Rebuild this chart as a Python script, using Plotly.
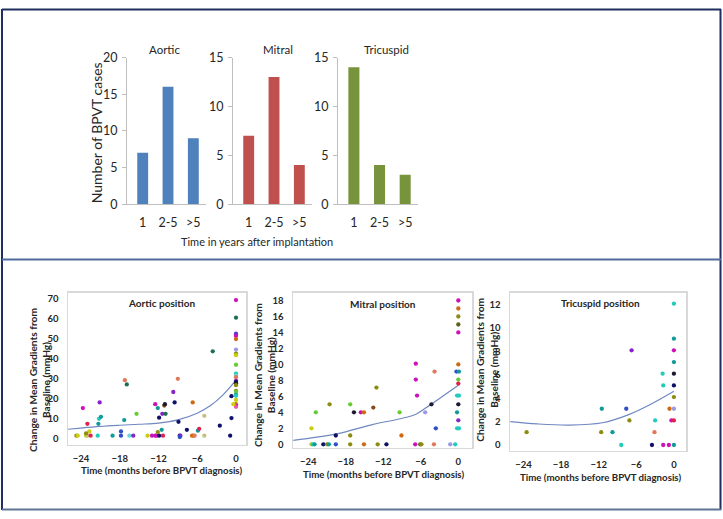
import plotly.graph_objects as go

W, H = 723, 519

# ---------------- data ----------------
bar_categories = ["1", "2-5", ">5"]
aortic_counts = [7, 16, 9]
mitral_counts = [7, 13, 4]
tricuspid_counts = [14, 4, 3]

aortic_x = [-24.7, -24.5, -23.2, -23.0, -22.5, -21.4, -19.1, -17.8, -16.5, -15.9, -13.7, -13.0,
            -12.5, -12.3, -11.9, -11.3, -8.7, -8.6, -6.8, -6.6, -6.4, -4.9, -0.9,
            -23.7, -23.0, -22.7, -23.2, -21.3, -21.2, -20.9, -21.1, -17.8, -17.3, -17.2, -16.9,
            -15.4, -12.5, -12.1, -11.9, -11.5, -12.1, -11.4, -11.1, -11.0, -10.9, -9.7, -9.5,
            -9.0, -8.9, -8.7, -7.6, -6.7, -5.9, -5.7, -4.9, -3.6, -2.5, -0.7, -0.7,
            0, 0, 0, 0, 0, 0, 0, 0, 0, 0, 0, 0, 0, 0, 0, 0, 0, 0, 0, 0, 0, 0, 0, 0, 0, -0.4]
aortic_y = [1.6, 1.6, 1.6, 1.6, 1.6, 1.6, 1.6, 1.6, 1.6, 1.6, 1.6, 1.6,
            1.6, 1.6, 1.6, 1.6, 1.6, 1.6, 1.6, 1.6, 1.6, 1.6, 1.6,
            15.4, 7.5, 3.7, 2.7, 7.5, 10.0, 11.0, 18.2, 3.7, 9.4, 29.3, 27.2,
            12.5, 17.3, 15.4, 10.6, 4.5, 3.4, 12.5, 16.6, 17.3, 12.5, 23.4, 18.2,
            30.0, 8.5, 0.9, 4.5, 18.2, 4.1, 5.0, 11.5, 43.7, 6.6, 21.3, 10.4,
            69.3, 60.5, 52.5, 52.0, 51.4, 49.8, 44.6, 42.6, 41.8, 37.0, 32.6, 31.6, 30.8, 29.0,
            28.4, 27.8, 26.8, 24.0, 23.5, 22.0, 21.5, 19.4, 17.3, 16.5, 16.0, 17.3]
aortic_trend_x = [-26, -24, -21, -18, -15, -12, -9, -6, -4, -2, 0]
aortic_trend_y = [4.8, 5.4, 6.2, 6.8, 7.3, 7.9, 9.5, 12.8, 16.5, 22.0, 29.3]

mitral_x = [-23.5, -23.3, -23.0, -21.6, -21.0, -20.7, -19.6, -17.3, -15.1, -12.9, -11.5, -6.9,
            -6.1, -5.9, -3.9, -1.3, -0.5,
            -23.5, -22.8, -20.6, -19.6, -17.3, -17.3, -16.7, -15.6, -15.1, -13.6, -13.1, -9.4,
            -9.1, -6.8, -6.8, -6.6, -4.3, -5.3, -3.8, -3.6,
            0, 0, 0, 0, 0, 0, -0.3, 0.1, 0, 0, -0.2, 0.1, 0, -0.2, 0, -0.2, 0.1]
mitral_y = [0, 0, 0, 0, 0, 0, 0, 0, 0, 0, 0, 0,
            0, 0, 0, 0, 0,
            2.0, 4.0, 5.0, 1.1, 5.0, 1.1, 4.0, 4.0, 4.0, 4.6, 7.1, 4.0,
            1.1, 10.1, 8.1, 6.1, 5.0, 4.0, 9.1, 2.0,
            18.0, 17.0, 16.0, 15.0, 14.0, 10.0, 9.1, 9.1, 8.1, 7.6, 6.1, 6.1, 5.0, 4.0, 3.0, 2.0, 2.0]
mitral_trend_x = [-26.4, -19.5, -13.6, -9.3, -6.7, -5.1, -2.9, 0]
mitral_trend_y = [0.5, 1.3, 2.5, 3.2, 3.8, 4.6, 5.8, 7.4]

tricuspid_x = [-23.5, -11.5, -11.6, -9.8, -8.4, -7.6, -6.75, -7.1, -3.5, -3.1, -3.0, -1.8,
               -1.7, -1.7, -0.8, -0.7, -0.4,
               0, 0, 0, 0, 0, 0, 0, 0, 0, 0]
tricuspid_y = [1.1, 3.1, 1.1, 1.1, 0, 3.1, 8.1, 2.1, 0, 1.1, 2.1, 6.1,
               5.1, 0, 0, 3.1, 2.1,
               12.1, 9.1, 8.1, 7.1, 6.1, 5.1, 4.1, 3.1, 2.1, 0]
tricuspid_trend_x = [-26.1, -21.8, -16.6, -11.4, -7.2, -4.0, 0]
tricuspid_trend_y = [2.0, 1.8, 1.7, 1.9, 2.6, 3.4, 4.6]

time_ticks = [-24, -18, -12, -6, 0]

# ---------------- styles ----------------
C = {"mag": "#cc11bb", "teal": "#119a99", "navy": "#10106a", "olive": "#8c8c10", "orange": "#d06a10",
     "purple": "#8a22cc", "green": "#66cc33", "cyan": "#22ccbb", "salmon": "#e0785a", "red": "#e0204f",
     "blue": "#2f4fc8", "black": "#1a1a30", "yellow": "#cccc10", "lav": "#9a9ae6", "khaki": "#c8c080",
     "dgreen": "#1f6f4f", "brown": "#8a4a20", "lcyan": "#66d8d8", "pink": "#ee55aa", "dolive": "#606020"}

aortic_colors = ["olive", "yellow", "yellow", "khaki", "red", "cyan", "teal", "blue", "lcyan", "purple",
                 "yellow", "mag", "mag", "mag", "navy", "red", "navy", "purple", "orange", "orange",
                 "salmon", "khaki", "navy",
                 "mag", "red", "yellow", "olive", "teal", "cyan", "teal", "purple", "blue", "teal",
                 "salmon", "dgreen", "green", "mag", "teal", "navy", "teal", "olive", "purple", "brown",
                 "black", "dgreen", "purple", "navy", "salmon", "navy", "blue", "navy", "orange", "teal",
                 "red", "khaki", "dgreen", "navy", "navy", "navy",
                 "mag", "dgreen", "purple", "blue", "mag", "orange", "lav", "olive", "yellow", "green",
                 "cyan", "lcyan", "salmon", "purple", "navy", "black", "olive", "olive", "green", "teal",
                 "cyan", "yellow", "orange", "mag", "pink", "yellow"]
mitral_colors = ["yellow", "cyan", "teal", "navy", "olive", "teal", "blue", "olive", "orange", "olive",
                 "navy", "mag", "dolive", "olive", "salmon", "lav", "cyan",
                 "yellow", "green", "olive", "navy", "green", "olive", "black", "mag", "orange", "brown",
                 "olive", "green", "orange", "mag", "mag", "mag", "black", "lav", "salmon", "blue",
                 "mag", "orange", "olive", "dolive", "mag", "orange", "blue", "teal", "green", "red",
                 "cyan", "cyan", "black", "teal", "purple", "cyan", "cyan"]
tricuspid_colors = ["olive", "teal", "olive", "teal", "cyan", "blue", "purple", "olive", "navy", "salmon",
                    "cyan", "cyan", "cyan", "mag", "mag", "orange", "mag",
                    "cyan", "teal", "mag", "teal", "black", "navy", "olive", "lav", "red", "teal"]

FONT = "Lato"
TXT = "#262626"


def fx(px):
    return px / W


def fy(py):
    return 1 - py / H


fig = go.Figure()

# top bar charts
bar_specs = [
    (aortic_counts, "#4f81bd", "x", "y"),
    (mitral_counts, "#c0504d", "x2", "y2"),
    (tricuspid_counts, "#77933c", "x3", "y3"),
]
for vals, col, xa, ya in bar_specs:
    fig.add_trace(go.Bar(x=bar_categories, y=vals, marker=dict(color=col, line=dict(width=0)),
                         width=0.43, xaxis=xa, yaxis=ya, showlegend=False, hoverinfo="skip"))

# bottom scatter charts
scatter_specs = [
    (aortic_x, aortic_y, aortic_trend_x, aortic_trend_y, "x4", "y4", aortic_colors),
    (mitral_x, mitral_y, mitral_trend_x, mitral_trend_y, "x5", "y5", mitral_colors),
    (tricuspid_x, tricuspid_y, tricuspid_trend_x, tricuspid_trend_y, "x6", "y6", tricuspid_colors),
]
for sx, sy, tx, ty, xa, ya, cols in scatter_specs:
    fig.add_trace(go.Scatter(x=tx, y=ty, mode="lines", line=dict(color="#7088c0", width=1.2, shape="spline"),
                             xaxis=xa, yaxis=ya, showlegend=False, hoverinfo="skip"))
    fig.add_trace(go.Scatter(x=sx, y=sy, mode="markers",
                             marker=dict(size=4.3, symbol="circle", color=[C[c] for c in cols],
                                         line=dict(width=0)),
                             xaxis=xa, yaxis=ya, showlegend=False, hoverinfo="skip"))

layout = dict(width=W, height=H, margin=dict(l=0, r=0, t=0, b=0),
              paper_bgcolor="white", plot_bgcolor="white", showlegend=False,
              font=dict(family=FONT, color=TXT))

# top axes
top_x = [(127, 206), (233, 312), (338, 418)]
top_ranges = [20, 15, 15]
for i, ((x0, x1), rmax) in enumerate(zip(top_x, top_ranges)):
    sfx = "" if i == 0 else str(i + 1)
    layout["xaxis" + sfx] = dict(domain=[fx(x0), fx(x1)], anchor="y" + sfx, showline=True,
                                 linecolor="#bfbfbf", linewidth=1, ticks="", showgrid=False,
                                 tickfont=dict(size=12.5, family=FONT, color=TXT),
                                 ticklabelstandoff=7, range=[-0.62, 2.5])
    layout["yaxis" + sfx] = dict(domain=[fy(202), fy(51)], anchor="x" + sfx, range=[0, rmax],
                                 dtick=5, showline=True, linecolor="#bfbfbf", linewidth=1,
                                 ticks="outside", ticklen=4, tickcolor="#bfbfbf", showgrid=False,
                                 tickfont=dict(size=12.5, family=FONT, color=TXT), zeroline=False,
                                 ticklabelstandoff=2)

# bottom axes
bot = [
    dict(x=(68, 246), y=(293, 450), xr=[-26.0, 1.55], yr=[-3.05, 73.05], dt=10),
    dict(x=(293, 472), y=(293, 453), xr=[-26.45, 2.19], yr=[-0.45, 19.0], dt=2),
    dict(x=(510, 686), y=(293, 456), xr=[-26.15, 1.93], yr=[-0.5, 13.05], dt=2),
]
for j, b in enumerate(bot):
    k = str(j + 4)
    layout["xaxis" + k] = dict(domain=[fx(b["x"][0]), fx(b["x"][1])], anchor="y" + k, range=b["xr"],
                               tickvals=time_ticks, showline=True, mirror=True, linecolor="#d9d9d9",
                               linewidth=1.5, ticks="", showgrid=False, zeroline=False,
                               tickfont=dict(size=9.5, family=FONT, color=TXT, weight="bold"),
                               ticklabelstandoff=4)
    layout["yaxis" + k] = dict(domain=[fy(b["y"][1]), fy(b["y"][0])], anchor="x" + k, range=b["yr"],
                               dtick=b["dt"], showline=True, mirror=True, linecolor="#d9d9d9",
                               linewidth=1.5, ticks="", showgrid=False, zeroline=False,
                               tickfont=dict(size=9.5, family=FONT, color=TXT, weight="bold"),
                               ticklabelstandoff=6)

annotations = []


def ann(text, x, y, size, bold=False, angle=0):
    annotations.append(dict(text=text, x=fx(x), y=fy(y), xref="paper", yref="paper", showarrow=False,
                            xanchor="center", yanchor="middle", textangle=angle,
                            font=dict(size=size, family=FONT, color=TXT, weight="bold" if bold else "normal")))


ann("Aortic", 164, 43, 11.5)
ann("Mitral", 278, 43, 11.5)
ann("Tricuspid", 386, 43, 11.5)
ann("Number of BPVT cases", 96, 129, 14, angle=-90)
ann("Time in years after implantation", 257, 240, 11)

ann("Aortic position", 162, 304, 10, bold=True)
ann("Mitral position", 383, 305, 10, bold=True)
ann("Tricuspid position", 600, 304, 10, bold=True)
for xc, yc in [(161, 476), (383, 480), (600, 483)]:
    ann("Time (months before BPVT diagnosis)", xc, yc, 9.7, bold=True)
for xc, yc in [(40, 383), (264, 378), (486.5, 373)]:
    ann("Change in Mean Gradients from<br>Baseline (mmHg)", xc, yc, 10.2, bold=True, angle=-90)

layout["annotations"] = annotations

NAVY = "#1f2f5e"
STEEL = "#4f6b9c"
layout["shapes"] = [
    dict(type="line", xref="paper", yref="paper", x0=fx(2), x1=fx(721), y0=fy(1.5), y1=fy(1.5),
         line=dict(color=NAVY, width=2)),
    dict(type="line", xref="paper", yref="paper", x0=fx(2), x1=fx(2), y0=fy(1), y1=fy(517),
         line=dict(color=NAVY, width=2)),
    dict(type="line", xref="paper", yref="paper", x0=fx(720.5), x1=fx(720.5), y0=fy(1), y1=fy(517),
         line=dict(color=NAVY, width=2)),
    dict(type="line", xref="paper", yref="paper", x0=fx(2), x1=fx(721), y0=fy(259), y1=fy(259),
         line=dict(color=STEEL, width=2)),
    dict(type="line", xref="paper", yref="paper", x0=fx(2), x1=fx(721), y0=fy(516.5), y1=fy(516.5),
         line=dict(color="#5f7594", width=2)),
]

fig.update_layout(**layout)
fig.write_html("out.html", config={"displayModeBar": False, "staticPlot": True},
               post_script="document.body.style.margin='0';document.body.style.padding='0';"
                           "document.documentElement.style.overflow='hidden';")
